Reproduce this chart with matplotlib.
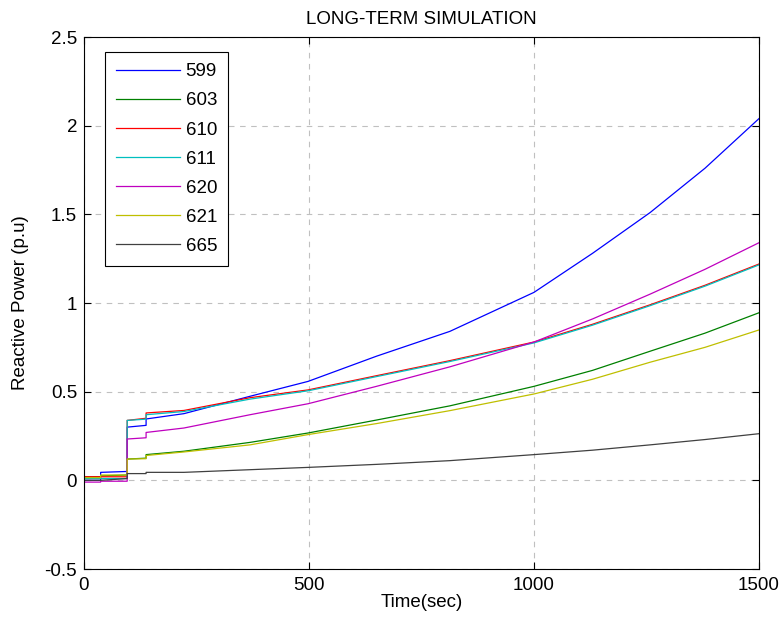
import matplotlib
matplotlib.use('Agg')
from matplotlib import pyplot as plt

plt.rcParams['font.family'] = ['Liberation Sans', 'DejaVu Sans']

# time points (s); repeated times mark the step changes
times = [0, 37, 37, 96, 96, 138, 138, 222, 369, 498, 650, 813, 1000, 1130, 1258, 1380, 1500]

q599 = [0.0, 0.0, 0.045, 0.05, 0.30, 0.31, 0.346, 0.376, 0.474, 0.558, 0.70, 0.84, 1.06, 1.28, 1.51, 1.76, 2.04]
q603 = [0.02, 0.02, 0.025, 0.03, 0.12, 0.125, 0.145, 0.164, 0.214, 0.267, 0.34, 0.42, 0.53, 0.62, 0.728, 0.83, 0.945]
q610 = [0.02, 0.02, 0.02, 0.02, 0.338, 0.35, 0.38, 0.394, 0.466, 0.51, 0.59, 0.675, 0.78, 0.88, 0.99, 1.10, 1.22]
q611 = [0.01, 0.01, 0.01, 0.01, 0.338, 0.345, 0.37, 0.388, 0.458, 0.505, 0.585, 0.67, 0.775, 0.875, 0.985, 1.095, 1.215]
q620 = [-0.01, -0.01, -0.005, -0.005, 0.233, 0.24, 0.27, 0.295, 0.37, 0.432, 0.53, 0.64, 0.78, 0.91, 1.05, 1.19, 1.34]
q621 = [0.015, 0.015, 0.03, 0.03, 0.12, 0.122, 0.14, 0.16, 0.20, 0.258, 0.32, 0.393, 0.487, 0.57, 0.666, 0.75, 0.848]
q665 = [0.0, 0.0, 0.0, 0.01, 0.038, 0.038, 0.045, 0.045, 0.06, 0.073, 0.09, 0.111, 0.145, 0.17, 0.20, 0.23, 0.263]

labels = ['599', '603', '610', '611', '620', '621', '665']
series = [q599, q603, q610, q611, q620, q621, q665]
colors = ['#0000ff', '#008000', '#ff0000', '#00bfbf', '#bf00bf', '#bfbf00', '#404040']

fig = plt.figure(figsize=(7.82, 6.25), dpi=100)
ax = fig.add_axes([0.1074, 0.0896, 0.8632, 0.8512])

for vals, lab, c in zip(series, labels, colors):
    ax.plot(times, vals, color=c, lw=0.9, label=lab)

ax.set_xlim(0, 1500)
ax.set_ylim(-0.5, 2.5)
ax.set_xticks([0, 500, 1000, 1500])
ax.set_yticks([-0.5, 0, 0.5, 1, 1.5, 2, 2.5])
ax.set_yticklabels(['-0.5', '0', '0.5', '1', '1.5', '2', '2.5'])
ax.grid(True, ls=(0, (5, 5)), color='#c0c0c0', lw=0.8)
ax.tick_params(direction='in', top=True, right=True, labelsize=13.5, length=5)
ax.tick_params(axis='x', pad=6)
ax.tick_params(axis='y', pad=5)
for s in ax.spines.values():
    s.set_linewidth(0.8)

ax.set_title('LONG-TERM SIMULATION', fontsize=13.5, pad=9)
ax.set_xlabel('Time(sec)', fontsize=13.5, labelpad=0)
ax.set_ylabel('Reactive Power (p.u)', fontsize=13.5, labelpad=11)

leg = ax.legend(loc='upper left', bbox_to_anchor=(0.031, 0.972), fontsize=13.5,
                handlelength=3.4, labelspacing=0.64, fancybox=False,
                framealpha=1, edgecolor='black', borderaxespad=0,
                borderpad=0.6, handletextpad=0.3)
leg.get_frame().set_linewidth(0.8)

plt.savefig('out.png', dpi=100)
